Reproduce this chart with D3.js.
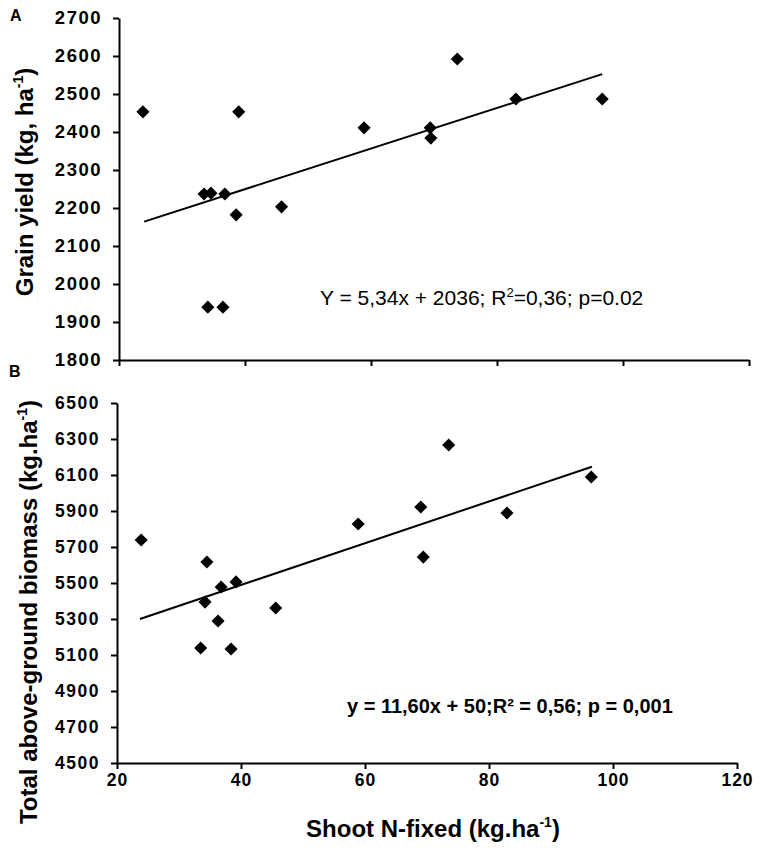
<!DOCTYPE html>
<html lang="en">
<head>
<meta charset="UTF-8">
<title>Shoot N-fixed vs grain yield and biomass</title>
<script src="https://d3js.org/d3.v7.min.js"></script>
<style>
  body { margin: 0; background: #fff; }
  svg { font-family: "Liberation Sans", Arial, sans-serif; }
  .domain, .tick line { stroke: #000; stroke-width: 2px; }
</style>
</head>
<body>
<div id="chart"></div>
<script>
// Panel A: grain yield
const nFixedA = [23.8, 33.5, 34.6, 36.8, 38.6, 39.0, 45.8, 34.1, 36.5, 58.9, 69.4, 69.5, 73.7, 83.0, 96.7];
const grainYield = [2453, 2237, 2239, 2237, 2182, 2453, 2203, 1939, 1939, 2411, 2411, 2384, 2592, 2487, 2487];
const trendA = [5.34, 2036];     // slope, intercept
const trendRangeA = [24, 96.7];

// Panel B: total above-ground biomass
const nFixedB = [23.9, 34.5, 34.2, 36.8, 39.2, 36.3, 33.5, 38.4, 45.6, 58.9, 73.5, 69.0, 69.4, 82.9, 96.5];
const biomass = [5739, 5617, 5394, 5478, 5506, 5289, 5139, 5133, 5361, 5828, 6267, 5922, 5644, 5889, 6089];
const trendB = [11.6, 5025];
const trendRangeB = [23.7, 96.6];

const xTicks = [20, 40, 60, 80, 100, 120];
const yTicksA = [1800, 1900, 2000, 2100, 2200, 2300, 2400, 2500, 2600, 2700];
const yTicksB = [4500, 4700, 4900, 5100, 5300, 5500, 5700, 5900, 6100, 6300, 6500];

const svg = d3.select("#chart").append("svg")
    .attr("width", 765)
    .attr("height", 848);

const diamond = d3.symbol().type(d3.symbolSquare).size(86);

function panel(opts) {
    const x = d3.scaleLinear().domain([20, 120]).range(opts.xRange);
    const y = d3.scaleLinear().domain(opts.yDomain).range(opts.yRange);
    const g = svg.append("g");

    // axes
    const xAxis = g.append("g")
        .attr("transform", `translate(0,${opts.yRange[0]})`)
        .call(d3.axisBottom(x).tickValues(xTicks).tickFormat(d3.format("d"))
            .tickSize(6).tickSizeOuter(0).tickPadding(5))
        .attr("font-family", null);
    if (opts.xLabels) {
        xAxis.selectAll("text")
            .style("font-size", "17.5px").style("font-weight", "bold")
            .style("letter-spacing", "1px").attr("fill", "#000");
    } else {
        xAxis.selectAll("text").remove();
    }

    const yAxis = g.append("g")
        .attr("transform", `translate(${opts.xRange[0]},0)`)
        .call(d3.axisLeft(y).tickValues(opts.yTicks).tickFormat(d3.format("d"))
            .tickSize(6).tickSizeOuter(0).tickPadding(opts.pad))
        .attr("font-family", null);
    yAxis.selectAll("text")
        .style("font-size", opts.tickFont).style("font-weight", "bold")
        .style("letter-spacing", "1.5px").attr("fill", "#000");

    // trend line
    const t = opts.trend;
    g.append("line")
        .attr("x1", x(opts.trendRange[0]))
        .attr("y1", y(t[0] * opts.trendRange[0] + t[1]))
        .attr("x2", x(opts.trendRange[1]))
        .attr("y2", y(t[0] * opts.trendRange[1] + t[1]))
        .attr("stroke", "#000")
        .attr("stroke-width", 2);

    // points
    g.selectAll(".pt")
        .data(opts.xs.map((v, i) => [v, opts.ys[i]]))
        .enter().append("path")
        .attr("class", "pt")
        .attr("d", diamond)
        .attr("transform", d => `translate(${x(d[0])},${y(d[1])}) rotate(45)`)
        .attr("fill", "#000");

    return g;
}

panel({
    xRange: [119, 749], yRange: [360, 18], yDomain: [1800, 2700],
    yTicks: yTicksA, tickFont: "18.5px", pad: 11, xLabels: false,
    xs: nFixedA, ys: grainYield, trend: trendA, trendRange: trendRangeA
});

panel({
    xRange: [117, 737], yRange: [763, 403], yDomain: [4500, 6500],
    yTicks: yTicksB, tickFont: "17.5px", pad: 11, xLabels: true,
    xs: nFixedB, ys: biomass, trend: trendB, trendRange: trendRangeB
});

// panel letters
svg.append("text").attr("x", 10).attr("y", 21).text("A")
    .style("font-size", "16px").style("font-weight", "bold");
svg.append("text").attr("x", 9).attr("y", 377).text("B")
    .style("font-size", "16px").style("font-weight", "bold");

// equations
const eqA = svg.append("text").attr("x", 320).attr("y", 305)
    .style("font-size", "21px");
eqA.append("tspan").text("Y = 5,34x + 2036; R");
eqA.append("tspan").text("2").attr("dy", -8).style("font-size", "13px");
eqA.append("tspan").text("=0,36; p=0.02").attr("dy", 8);

svg.append("text").attr("x", 347).attr("y", 713)
    .style("font-size", "20px").style("font-weight", "bold")
    .text("y = 11,60x + 50;R² = 0,56; p = 0,001");

// axis titles
function title(txt, x, y, rotate) {
    const t = svg.append("text")
        .attr("transform", `translate(${x},${y})` + (rotate ? " rotate(-90)" : ""))
        .attr("text-anchor", "middle")
        .style("font-size", "24px").style("font-weight", "bold");
    t.append("tspan").text(txt);
    t.append("tspan").text("-1").attr("dy", -10).style("font-size", "14px");
    t.append("tspan").text(")").attr("dy", 10);
}
title("Grain yield (kg, ha", 33, 182, true);
title("Total above-ground biomass (kg.ha", 37, 612, true);
title("Shoot N-fixed (kg.ha", 433, 837, false);
</script>
</body>
</html>
